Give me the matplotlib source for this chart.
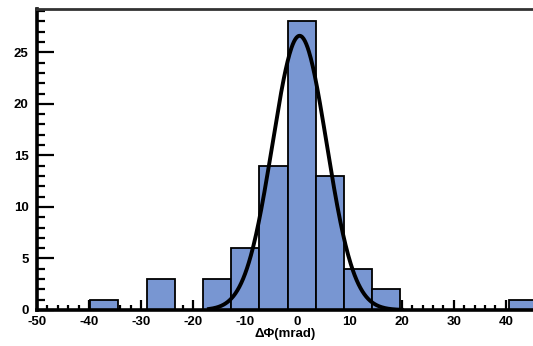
import numpy as np
import matplotlib
matplotlib.use("Agg")
import matplotlib.pyplot as plt
from matplotlib.ticker import MultipleLocator

# histogram bins (left edges) and counts
binLeft = [-39.8, -28.9, -18.1, -12.7, -7.3, -1.9, 3.5, 8.9, 14.3, 40.6]
counts = [1, 3, 3, 6, 14, 28, 13, 4, 2, 1]
binWidth = 5.4

# gaussian fit drawn over the histogram
fitAmp = 26.6
fitMean = 0.4
fitSigma = 5.2

plt.rcParams['font.family'] = ['Liberation Sans', 'DejaVu Sans']
plt.rcParams['font.weight'] = 'bold'
plt.rcParams['axes.unicode_minus'] = False

fig = plt.figure(figsize=(5.33, 3.46), dpi=100)
ax = fig.add_axes([37/533, 36/346, 1 - 37/533, (310 - 9)/346])

ax.bar(binLeft, counts, width=binWidth, align='edge', color='#7896d2',
       edgecolor='black', linewidth=1.3, zorder=2)

xs = np.linspace(-17, 20, 300)
ax.plot(xs, fitAmp*np.exp(-0.5*((xs - fitMean)/fitSigma)**2),
        color='black', linewidth=2.8, zorder=3)

ax.set_xlim(-50, 45.2)
ax.set_ylim(0, 29.2)

ax.xaxis.set_major_locator(MultipleLocator(10))
ax.xaxis.set_minor_locator(MultipleLocator(2))
ax.yaxis.set_major_locator(MultipleLocator(5))
ax.yaxis.set_minor_locator(MultipleLocator(1))

ax.tick_params(axis='both', which='both', direction='in', width=1.6,
               color='black', labelsize=9.5)
ax.tick_params(axis='y', which='major', length=12, pad=6)
ax.tick_params(axis='y', which='minor', length=6)
ax.tick_params(axis='x', which='major', length=7, pad=4)
ax.tick_params(axis='x', which='minor', length=3.5)
ax.tick_params(top=False, right=False, which='both')

for lab in ax.get_xticklabels() + ax.get_yticklabels():
    lab.set_fontweight('bold')

ax.spines['left'].set_linewidth(2.6)
ax.spines['bottom'].set_linewidth(2.6)
ax.spines['top'].set_linewidth(2.0)
ax.spines['top'].set_color('#333333')
ax.spines['right'].set_visible(False)
for s in ax.spines.values():
    s.set_zorder(4)

ax.set_xlabel('ΔΦ(mrad)', fontsize=9.5, fontweight='bold', labelpad=0)

fig.savefig('out.png', dpi=100, facecolor='white')
